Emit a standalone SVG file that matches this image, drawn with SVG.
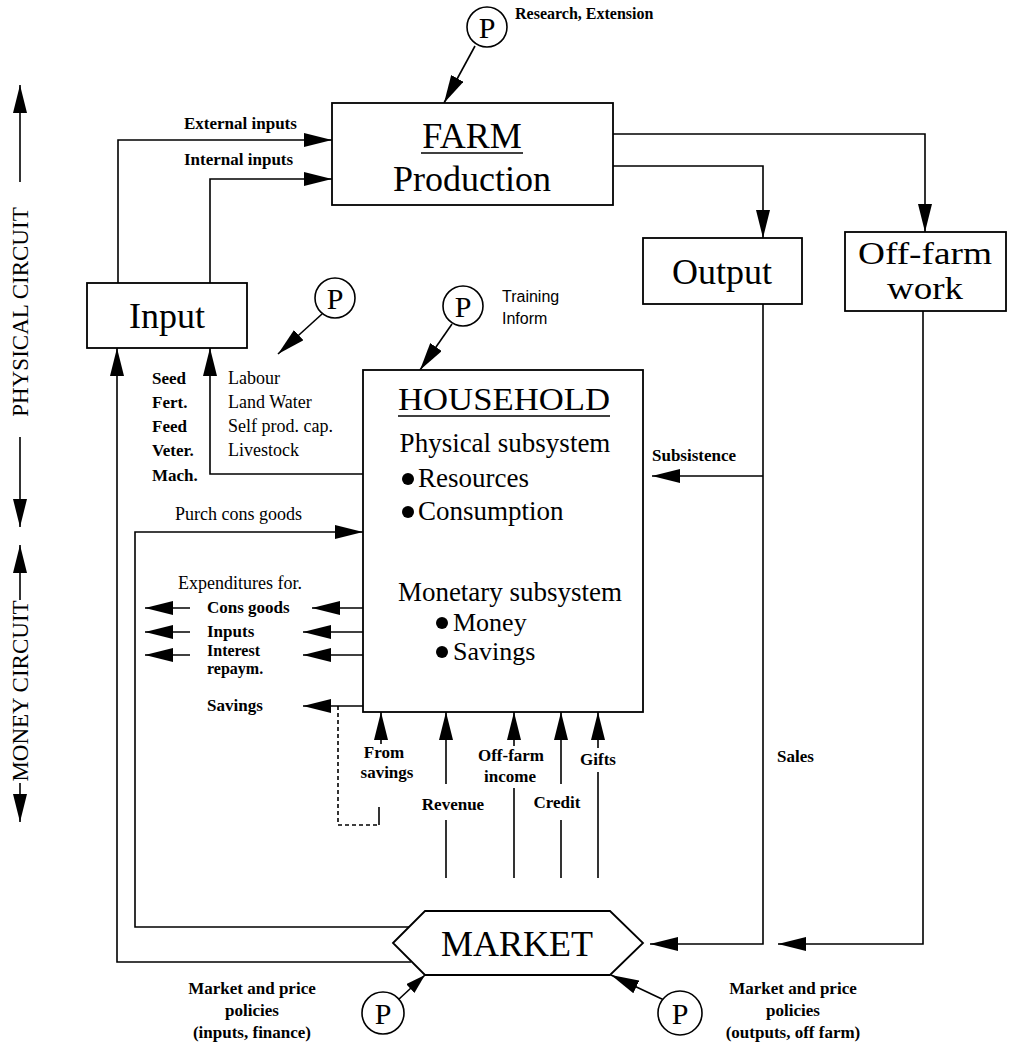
<svg xmlns="http://www.w3.org/2000/svg" width="1013" height="1046" viewBox="0 0 1013 1046">
  <style>
    .box { fill: #fff; stroke: #000; stroke-width: 1.8; }
    .ln { fill: none; stroke: #000; stroke-width: 1.6; }
    .dash { fill: none; stroke: #000; stroke-width: 1.6; stroke-dasharray: 4 3; }
    .big { font-family: "Liberation Serif", "Times New Roman", serif; font-size: 36px; fill: #000; }
    .mid { font-family: "Liberation Serif", "Times New Roman", serif; font-size: 27px; fill: #000; }
    .item { font-family: "Liberation Serif", "Times New Roman", serif; font-size: 26px; fill: #000; }
    .lab { font-family: "Liberation Serif", "Times New Roman", serif; font-size: 17px; font-weight: bold; fill: #000; }
    .reg { font-family: "Liberation Serif", "Times New Roman", serif; font-size: 18px; fill: #000; }
    .sans { font-family: "Liberation Sans", Arial, sans-serif; font-size: 16px; fill: #000; }
    .axis { font-family: "Liberation Serif", "Times New Roman", serif; font-size: 23px; fill: #000; }
    .pc { fill: #fff; stroke: #000; stroke-width: 1.6; }
    .pt { font-family: "Liberation Serif", "Times New Roman", serif; font-size: 30px; fill: #000; text-anchor: middle; }
    .c { text-anchor: middle; }
  </style>
  <defs>
    <marker id="arr" markerUnits="userSpaceOnUse" markerWidth="28" markerHeight="14" refX="28" refY="7" orient="auto">
      <path d="M0,0 L28,7 L0,14 z" fill="#000"/>
    </marker>
    <marker id="arrS" markerUnits="userSpaceOnUse" markerWidth="20" markerHeight="12" refX="20" refY="6" orient="auto">
      <path d="M0,0 L20,6 L0,12 z" fill="#000"/>
    </marker>
  </defs>

  <!-- side axis: physical / money circuit -->
  <g id="axis">
    <line class="ln" x1="20" y1="182" x2="20" y2="85" marker-end="url(#arr)"/>
    <text class="axis c" transform="translate(28,312) rotate(-90)">PHYSICAL CIRCUIT</text>
    <line class="ln" x1="20" y1="437" x2="20" y2="527" marker-end="url(#arr)"/>
    <line class="ln" x1="20" y1="600" x2="20" y2="545" marker-end="url(#arr)"/>
    <text class="axis c" transform="translate(28,691) rotate(-90)">MONEY CIRCUIT</text>
    <line class="ln" x1="20" y1="783" x2="20" y2="822" marker-end="url(#arr)"/>
  </g>

  <!-- connectors -->
  <g id="connectors">
    <!-- inputs into the farm -->
    <path class="ln" d="M118,283 V140 H332" marker-end="url(#arr)"/>
    <path class="ln" d="M210,283 V179 H332" marker-end="url(#arr)"/>
    <!-- farm outputs -->
    <path class="ln" d="M613,134 H925 V232" marker-end="url(#arr)"/>
    <path class="ln" d="M613,166 H763 V238" marker-end="url(#arr)"/>
    <!-- output and off-farm work to market -->
    <path class="ln" d="M763,304 V944 H650" marker-end="url(#arr)"/>
    <path class="ln" d="M923,311 V944 H778" marker-end="url(#arr)"/>
    <!-- subsistence -->
    <path class="ln" d="M763,476 H652" marker-end="url(#arr)"/>
    <!-- household resources to input -->
    <path class="ln" d="M363,474 H210 V348" marker-end="url(#arr)"/>
    <!-- market to input -->
    <path class="ln" d="M411,962 H117 V348" marker-end="url(#arr)"/>
    <!-- purchased consumer goods -->
    <path class="ln" d="M410,927 H135 V532 H363" marker-end="url(#arr)"/>
    <!-- expenditures -->
    <path class="ln" d="M363,608 H312" marker-end="url(#arr)"/>
    <path class="ln" d="M363,632 H303" marker-end="url(#arr)"/>
    <path class="ln" d="M363,655 H303" marker-end="url(#arr)"/>
    <path class="ln" d="M363,706 H303" marker-end="url(#arr)"/>
    <path class="ln" d="M190,608 H145" marker-end="url(#arr)"/>
    <path class="ln" d="M190,632 H145" marker-end="url(#arr)"/>
    <path class="ln" d="M190,655 H145" marker-end="url(#arr)"/>
    <!-- savings loop -->
    <path class="dash" d="M338,706 V825 H379"/>
    <line class="ln" x1="379" y1="807" x2="379" y2="825"/>
    <line class="ln" x1="381" y1="744" x2="381" y2="712" marker-end="url(#arr)"/>
    <!-- incomes into household -->
    <line class="ln" x1="446" y1="784" x2="446" y2="712" marker-end="url(#arr)"/>
    <line class="ln" x1="446" y1="820" x2="446" y2="878"/>
    <line class="ln" x1="514" y1="746" x2="514" y2="712" marker-end="url(#arr)"/>
    <line class="ln" x1="514" y1="788" x2="514" y2="878"/>
    <line class="ln" x1="561" y1="784" x2="561" y2="712" marker-end="url(#arr)"/>
    <line class="ln" x1="561" y1="820" x2="561" y2="878"/>
    <line class="ln" x1="598" y1="748" x2="598" y2="712" marker-end="url(#arr)"/>
    <line class="ln" x1="598" y1="772" x2="598" y2="878"/>
    <!-- policy arrows -->
    <line class="ln" x1="475" y1="46" x2="444" y2="103" marker-end="url(#arr)"/>
    <line class="ln" x1="322" y1="314" x2="278" y2="354" marker-end="url(#arr)"/>
    <line class="ln" x1="452" y1="324" x2="420" y2="370" marker-end="url(#arr)"/>
    <line class="ln" x1="398" y1="1000" x2="425" y2="975" marker-end="url(#arrS)"/>
    <line class="ln" x1="664" y1="1000" x2="611" y2="975" marker-end="url(#arr)"/>
  </g>

  <!-- farm -->
  <g id="farm">
    <rect class="box" x="332" y="103" width="281" height="102"/>
    <text class="big c" x="472" y="148">FARM</text>
    <line class="ln" x1="421" y1="153" x2="523" y2="153"/>
    <text class="big c" x="472" y="191">Production</text>
  </g>

  <g id="input">
    <rect class="box" x="87" y="283" width="160" height="65"/>
    <text class="big c" x="167" y="328">Input</text>
  </g>

  <g id="output">
    <rect class="box" x="643" y="238" width="159" height="66"/>
    <text class="big c" x="722" y="284">Output</text>
  </g>

  <g id="offfarm">
    <rect class="box" x="845" y="232" width="161" height="79"/>
    <text class="big c" x="925" y="264" style="font-size:31px" textLength="134" lengthAdjust="spacingAndGlyphs">Off-farm</text>
    <text class="big c" x="925" y="299" style="font-size:31px" textLength="76" lengthAdjust="spacingAndGlyphs">work</text>
  </g>

  <g id="household">
    <rect class="box" x="363" y="370" width="280" height="342"/>
    <text class="big c" x="504" y="410" style="font-size:31px" textLength="212" lengthAdjust="spacingAndGlyphs">HOUSEHOLD</text>
    <line class="ln" x1="398" y1="416" x2="610" y2="416"/>
    <text class="mid c" x="505" y="452">Physical subsystem</text>
    <circle cx="408" cy="479" r="6"/>
    <text class="item" x="418" y="487" style="font-size:27px">Resources</text>
    <circle cx="408" cy="512" r="6"/>
    <text class="item" x="418" y="520" style="font-size:27px">Consumption</text>
    <text class="mid c" x="510" y="601">Monetary subsystem</text>
    <circle cx="442" cy="623" r="6"/>
    <text class="item" x="453" y="631">Money</text>
    <circle cx="442" cy="652" r="6"/>
    <text class="item" x="453" y="660">Savings</text>
  </g>

  <g id="market">
    <polygon class="box" points="393,943 425,911 610,911 643,943 610,975 425,975"/>
    <text class="big c" x="517" y="956">MARKET</text>
  </g>

  <!-- policy nodes -->
  <g id="p-research">
    <circle class="pc" cx="487" cy="27" r="20"/>
    <text class="pt" x="487" y="38">P</text>
    <text class="lab" x="515" y="19" style="font-size:16px">Research, Extension</text>
  </g>
  <g id="p-resources">
    <circle class="pc" cx="335" cy="298" r="20"/>
    <text class="pt" x="335" y="309">P</text>
  </g>
  <g id="p-training">
    <circle class="pc" cx="463" cy="306" r="20"/>
    <text class="pt" x="463" y="317">P</text>
    <text class="sans" x="502" y="302">Training</text>
    <text class="sans" x="502" y="324">Inform</text>
  </g>
  <g id="p-inputs">
    <circle class="pc" cx="383" cy="1013" r="21"/>
    <text class="pt" x="383" y="1024">P</text>
    <text class="lab c" x="252" y="994">Market and price</text>
    <text class="lab c" x="252" y="1016">policies</text>
    <text class="lab c" x="252" y="1038">(inputs, finance)</text>
  </g>
  <g id="p-outputs">
    <circle class="pc" cx="680" cy="1013" r="22"/>
    <text class="pt" x="680" y="1024">P</text>
    <text class="lab c" x="793" y="994">Market and price</text>
    <text class="lab c" x="793" y="1016">policies</text>
    <text class="lab c" x="793" y="1038">(outputs, off farm)</text>
  </g>

  <!-- flow labels -->
  <g id="labels">
    <text class="lab" x="184" y="129">External inputs</text>
    <text class="lab" x="184" y="165">Internal inputs</text>
    <text class="lab" x="152" y="384">Seed</text>
    <text class="lab" x="152" y="408">Fert.</text>
    <text class="lab" x="152" y="432">Feed</text>
    <text class="lab" x="152" y="456">Veter.</text>
    <text class="lab" x="152" y="481">Mach.</text>
    <text class="reg" x="228" y="384">Labour</text>
    <text class="reg" x="228" y="408">Land Water</text>
    <text class="reg" x="228" y="432">Self prod. cap.</text>
    <text class="reg" x="228" y="456">Livestock</text>
    <text class="reg" x="175" y="520">Purch cons goods</text>
    <text class="reg" x="178" y="589">Expenditures for.</text>
    <text class="lab" x="207" y="613">Cons goods</text>
    <text class="lab" x="207" y="637">Inputs</text>
    <text class="lab" x="207" y="656" style="font-size:16px">Interest</text>
    <text class="lab" x="207" y="674" style="font-size:16px">repaym.</text>
    <text class="lab" x="207" y="711">Savings</text>
    <text class="lab" x="652" y="461">Subsistence</text>
    <text class="lab" x="777" y="762">Sales</text>
    <text class="lab c" x="384" y="758">From</text>
    <text class="lab c" x="387" y="778">savings</text>
    <text class="lab c" x="453" y="810">Revenue</text>
    <text class="lab c" x="511" y="761">Off-farm</text>
    <text class="lab c" x="510" y="782">income</text>
    <text class="lab c" x="557" y="808">Credit</text>
    <text class="lab c" x="598" y="765">Gifts</text>
  </g>
</svg>
